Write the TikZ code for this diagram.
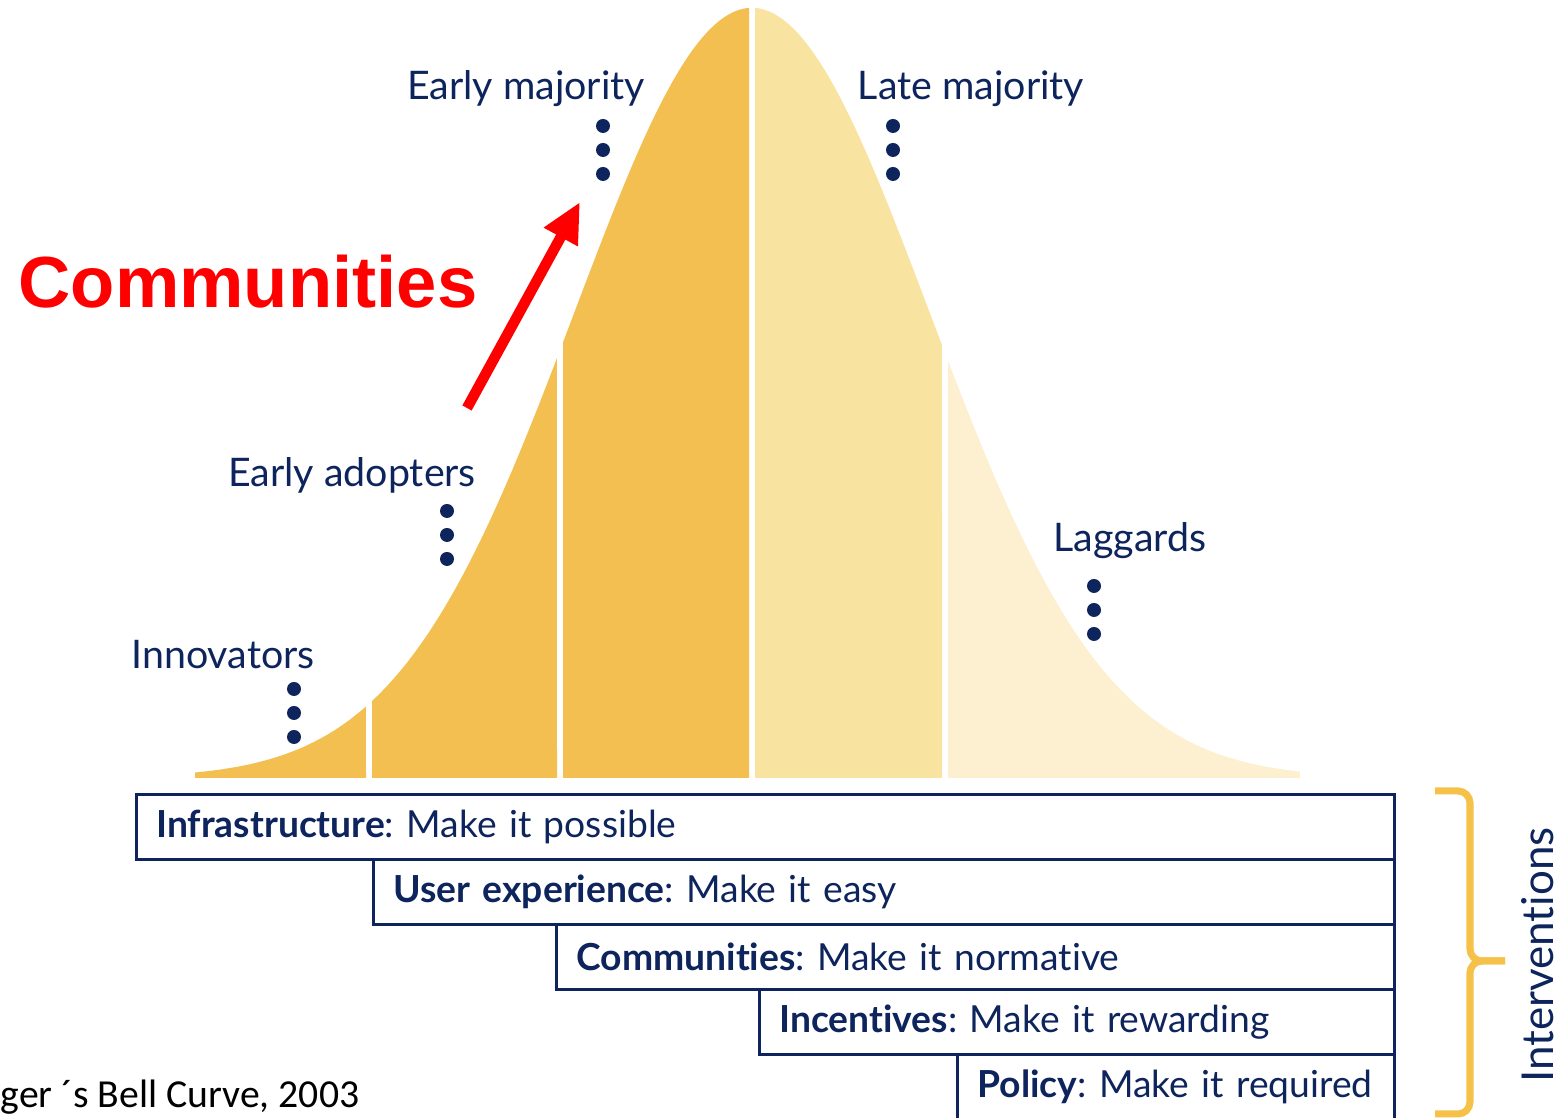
\documentclass[tikz,border=0pt]{standalone}
\usepackage{fontspec}
\setmainfont{Lato}[Ligatures=NoCommon]
\newfontfamily\redfont{Liberation Sans}
\newfontfamily\notefont{Carlito}
\usetikzlibrary{arrows.meta, positioning, decorations.pathreplacing}
\definecolor{bellnavy}{RGB}{13, 36, 92}
\definecolor{bellgold}{RGB}{242, 191, 80}
\definecolor{bellpale}{RGB}{249, 227, 161}
\definecolor{belllight}{RGB}{253, 240, 209}
\definecolor{bracegold}{RGB}{245, 193, 72}
\tikzset{
    grouplabel/.style={text=bellnavy, anchor=base, inner sep=0pt,
                       font=\fontsize{11.2}{14}\selectfont},
    levelbox/.style={rectangle, draw=bellnavy, line width=0.8pt, fill=white, anchor=north west,
                     minimum height=0.65cm, inner xsep=0.2cm, inner ysep=0pt, align=left,
                     text=bellnavy, font=\fontsize{10.6}{13}\selectfont},
    redarrow/.style={-{Triangle[length=4mm, width=3.6mm]}, line width=3pt, red},
    bellbrace/.style={bracegold, line width=2pt, rounded corners=0.12cm},
}

\begin{document}
\frenchspacing
\begin{tikzpicture}
    \useasboundingbox (0,0) rectangle (15.64,11.18);

    % bell curve, one piece per group
    \foreach \a/\b/\c in {1.95/3.66/bellgold, 3.72/5.57/bellgold, 5.63/7.49/bellgold,
                          7.55/9.42/bellpale, 9.48/13.0/belllight}
        \fill[\c] (\a,3.40) -- plot[domain=\a:\b, samples=60]
            (\x, {3.40+7.70*exp(-((\x-7.52)^2)/6.27)}) -- (\b,3.40) -- cycle;

    % group labels
    \node[grouplabel] (innov) at (2.23, 4.49) {Innovators};
    \node[grouplabel] (adopt) at (3.52, 6.31) {Early adopters};
    \node[grouplabel] (earlymaj) at (5.26, 10.18) {Early majority};
    \node[grouplabel] (latemaj) at (9.71, 10.18) {Late majority};
    \node[grouplabel] (lagg) at (11.30, 5.66) {Laggards};

    \foreach \dx/\dy in {2.94/4.29, 4.47/6.07, 6.03/9.92, 8.93/9.92, 10.94/5.32}
        \foreach \k in {0,1,2}
            \fill[bellnavy] (\dx, \dy-\k*0.24) circle (0.07);

    % red highlight
    \node[text=red, font=\redfont\bfseries\fontsize{20.6}{24}\selectfont] (redtitle) at (2.48, 8.36) {Communities};
    \coordinate (arrowfoot) at (4.67, 7.10);
    \coordinate (arrowtip) at (5.80, 9.16);
    \draw[redarrow] (arrowfoot) -- (arrowtip);

    % interventions
    \node[levelbox, text width=12.18cm] (infra) at (1.35, 3.25) {\textbf{Infrastructure}: Make it possible};
    \node[levelbox, text width=9.81cm] (ux) at (3.72, 2.60) {\textbf{User experience}: Make it easy};
    \node[levelbox, text width=7.98cm] (comm) at (5.55, 1.95) {\textbf{Communities}: Make it normative};
    \node[levelbox, text width=5.95cm] (incent) at (7.58, 1.30) {\textbf{Incentives}: Make it rewarding};
    \node[levelbox, text width=3.97cm] (policy) at (9.56, 0.65) {\textbf{Policy}: Make it required};

    \coordinate (bracetop) at (14.35, 3.27);
    \coordinate (bracebot) at (14.35, 0.04);
    \coordinate (bracetip) at (15.05, 1.57);
    \draw[bellbrace] (bracetop) -- (14.70, 3.27) -- (14.70, 1.57) -- (bracetip);
    \draw[bellbrace] (bracebot) -- (14.70, 0.04) -- (14.70, 1.57) -- (bracetip);
    \node[rotate=90, text=bellnavy, inner sep=0pt, font=\fontsize{12.5}{15}\selectfont] (interv) at (15.38, 1.63) {Interventions};

    \node[anchor=base west, inner sep=0pt, font=\notefont\fontsize{11.3}{14}\selectfont] (source) at (0, 0.10) {ger ´s Bell Curve, 2003};
\end{tikzpicture}
\end{document}
